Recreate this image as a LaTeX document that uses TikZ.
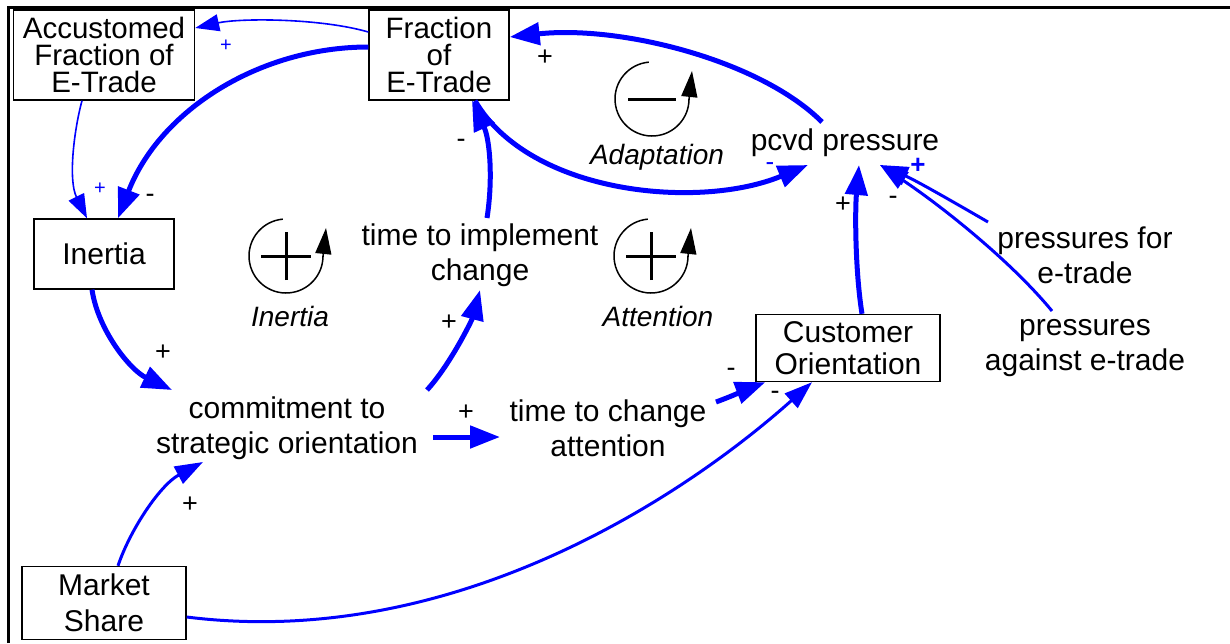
\documentclass[tikz,border=0pt]{standalone}
\usepackage{fontspec}
\setmainfont{Liberation Sans}
\usetikzlibrary{arrows.meta,calc}
\definecolor{cblue}{RGB}{0,0,255}
\begin{document}
\begin{tikzpicture}[x=1pt,y=-1pt,
  box/.style={draw, line width=1.4pt, align=center, inner sep=0pt},
  boxfont/.style={font=\fontsize{29.5}{27}\selectfont},
  lbl/.style={align=center, inner sep=0pt, font=\fontsize{30}{35}\selectfont},
  loopname/.style={font=\fontsize{28}{30}\selectfont\itshape, inner sep=0pt},
  thickc/.style={draw=cblue, line width=5pt, -{Triangle[length=30pt,width=22pt]}},
  medc/.style={draw=cblue, line width=3pt, -{Triangle[length=28pt,width=19pt]}},
  thinc/.style={draw=cblue, line width=1.6pt, -{Triangle[length=24pt,width=17pt]}},
  pol/.style={font=\fontsize{27}{27}\selectfont, inner sep=0pt},
  bpol/.style={inner sep=0pt, text=cblue, font=\fontsize{20}{20}\selectfont},
  loopc/.style={line width=1.5pt},
  loopsign/.style={line width=3pt},
  looptip/.style={-{Triangle[length=26pt,width=16pt]}, line width=1.5pt},
]
\useasboundingbox (0,0) rectangle (1230,643);
% frame
\draw[line width=3pt] (8,643) -- (8,7) -- (1230,7);

% boxes
\node[box, boxfont, minimum width=181, minimum height=90] (acc) at (104,55) {Accustomed\\Fraction of\\E-Trade};
\node[box, boxfont, minimum width=140, minimum height=90] (fr) at (439,55) {Fraction\\of\\E-Trade};
\node[box, font=\fontsize{30}{32}\selectfont, minimum width=140, minimum height=70] (in) at (104,254) {Inertia};
\node[box, font=\fontsize{30}{32}\selectfont, minimum width=184, minimum height=67] (co) at (848,348) {Customer\\Orientation};
\node[box, font=\fontsize{30}{36}\selectfont, minimum width=164, minimum height=73] (ms) at (104,603) {Market\\Share};

% labels
\node[lbl] (timp) at (480,255) {time to implement\\change};
\node[lbl] (com) at (287,428) {commitment to\\strategic orientation};
\node[lbl] (tca) at (608,428) {time to change\\attention};
\node[lbl] (pcvd) at (845,143) {pcvd pressure};
\node[lbl] (pfor) at (1085,255) {pressures for\\e-trade};
\node[lbl] (pag) at (1085,348) {pressures\\against e-trade};

% loop symbols
\node[inner sep=0pt, minimum size=76] (lin) at (286,256) {};
\draw[loopc] (lin.center) ++(95:37pt) arc[start angle=95, end angle=360, radius=37pt];
\draw[looptip] ([xshift=37pt,yshift=-1pt]lin.center) -- ([xshift=40pt,yshift=28pt]lin.center);
\draw[loopsign] ([xshift=-25pt]lin.center) -- ([xshift=25pt]lin.center);
\draw[loopsign] ([yshift=-24pt]lin.center) -- ([yshift=24pt]lin.center);
\node[loopname] (linl) at (290,316) {Inertia};

\node[inner sep=0pt, minimum size=76] (lad) at (652,99) {};
\draw[loopc] (lad.center) ++(95:37pt) arc[start angle=95, end angle=360, radius=37pt];
\draw[looptip] ([xshift=37pt,yshift=-1pt]lad.center) -- ([xshift=40pt,yshift=28pt]lad.center);
\draw[loopsign] ([xshift=-24pt]lad.center) -- ([xshift=24pt]lad.center);
\node[loopname] (ladl) at (657,157) {Adaptation};

\node[inner sep=0pt, minimum size=76] (lat) at (651,256) {};
\draw[loopc] (lat.center) ++(95:37pt) arc[start angle=95, end angle=360, radius=37pt];
\draw[looptip] ([xshift=37pt,yshift=-1pt]lat.center) -- ([xshift=40pt,yshift=28pt]lat.center);
\draw[loopsign] ([xshift=-25pt]lat.center) -- ([xshift=25pt]lat.center);
\draw[loopsign] ([yshift=-24pt]lat.center) -- ([yshift=24pt]lat.center);
\node[loopname] (latl) at (658,316) {Attention};

% connectors
\draw[thinc] ([yshift=23pt]fr.west) .. controls (320,18) and (240,18) .. ([yshift=27pt]acc.east);
\draw[thinc] ([xshift=-22pt]acc.south) .. controls (74,130) and (68,180) .. ([xshift=-17pt]in.north);
\draw[thickc] ([yshift=8pt]fr.west) .. controls (260,47) and (160,110) .. ([xshift=14pt]in.north);
\draw[thickc] ([xshift=-23pt,yshift=21pt]pcvd.center) .. controls (760,60) and (620,25) .. ([yshift=18pt]fr.east);
\draw[thickc] ([xshift=36pt]fr.south) .. controls (530,195) and (700,210) .. ([xshift=-37pt,yshift=-22pt]pcvd.center);
\draw[thickc] ([xshift=7pt,yshift=37pt]timp.center) .. controls (493,180) and (490,140) .. ([xshift=33pt]fr.south);
\draw[thickc] ([xshift=-12pt]in.south) .. controls (98,330) and (130,370) .. ([xshift=-115pt,yshift=38pt]com.center);
\draw[thickc] ([xshift=140pt,yshift=38pt]com.center) .. controls (450,365) and (472,320) .. ([yshift=-35pt]timp.center);
\draw[thickc] ([xshift=146pt,yshift=-9pt]com.center) -- ([xshift=-108pt,yshift=-9pt]tca.center);
\draw[thickc] ([xshift=108pt,yshift=26pt]tca.center) .. controls (735,395) and (750,388) .. ([xshift=10pt]co.south west);
\draw[medc] ([yshift=-14pt]ms.east) .. controls (450,650) and (680,500) .. ([xshift=-36pt]co.south);
\draw[medc] ([xshift=14pt]ms.north) .. controls (130,530) and (160,485) .. ([xshift=-84pt,yshift=-34pt]com.center);
\draw[thickc] ([xshift=14pt]co.north) .. controls (855,270) and (855,210) .. ([xshift=14pt,yshift=-22pt]pcvd.center);
\draw[medc] ([xshift=-97pt,yshift=33pt]pfor.center) .. controls (950,200) and (915,180) .. ([xshift=35pt,yshift=-22pt]pcvd.center);
\draw[medc] ([xshift=-33pt,yshift=37pt]pag.center) .. controls (1010,260) and (940,205) .. ([xshift=35pt,yshift=-22pt]pcvd.center);

% polarities
\node[bpol] (p1) at (226,46) {+};
\node[bpol] (p2) at (100,189) {+};
\node[pol] (p3) at (150,198) {-};
\node[pol] (p4) at (545,58) {+};
\node[pol] (p5) at (461,143) {-};
\node[bpol, font=\fontsize{26}{26}\selectfont] (p6) at (770,167) {-};
\node[bpol, font=\fontsize{26}{26}\selectfont\bfseries] (p7) at (918,166) {+};
\node[pol] (p8) at (843,205) {+};
\node[pol] (p9) at (893,200) {-};
\node[pol] (p10) at (163,353) {+};
\node[pol] (p11) at (449,323) {+};
\node[pol] (p12) at (466,413) {+};
\node[pol] (p13) at (731,372) {-};
\node[pol] (p14) at (775,395) {-};
\node[pol] (p15) at (190,505) {+};
\end{tikzpicture}
\end{document}
